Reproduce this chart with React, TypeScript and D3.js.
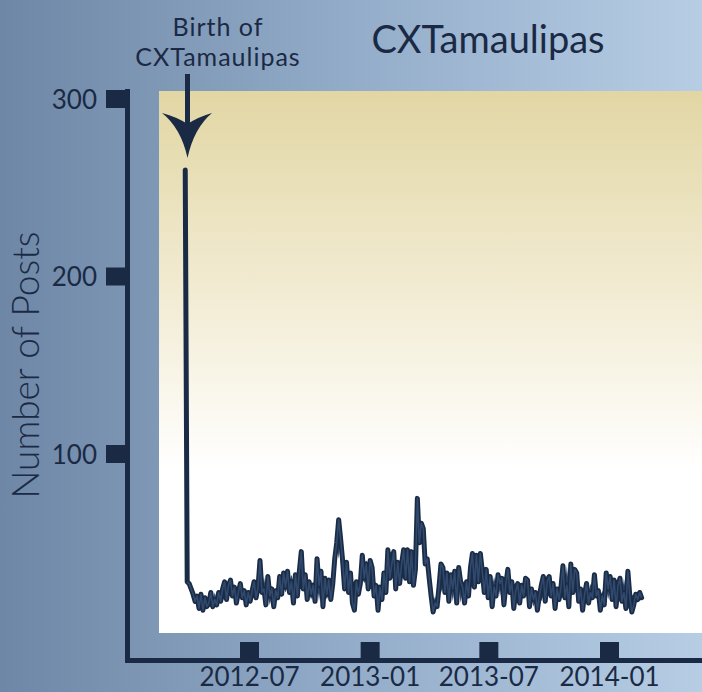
import { useEffect, useRef } from 'react';
import * as d3 from 'd3';

const startDay = new Date(2012, 2, 25);
const stepDays = 3;
const posts = [
  260, 28, 27, 24, 21, 17, 20, 13, 21, 12, 19, 14, 16, 22, 14, 18, 15, 22, 17, 24,
  28, 18, 26, 29, 20, 25, 16, 22, 27, 19, 23, 15, 22, 17, 23, 28, 19, 25, 40, 22,
  24, 15, 31, 20, 24, 14, 23, 19, 31, 21, 33, 25, 34, 22, 28, 16, 32, 20, 34, 45,
  24, 32, 18, 28, 21, 26, 17, 41, 26, 34, 14, 30, 21, 29, 18, 27, 41, 50, 63, 52,
  40, 24, 39, 22, 33, 16, 12, 28, 21, 27, 43, 30, 38, 24, 40, 36, 20, 26, 12, 25,
  18, 33, 22, 46, 30, 38, 45, 24, 39, 27, 38, 46, 30, 46, 28, 45, 26, 35, 75, 50,
  61, 58, 38, 41, 30, 20, 11, 16, 14, 25, 38, 36, 22, 33, 17, 32, 24, 34, 16, 36,
  28, 25, 16, 28, 20, 36, 44, 25, 43, 28, 44, 34, 22, 35, 19, 31, 14, 25, 20, 32,
  27, 30, 15, 27, 35, 22, 28, 13, 23, 27, 16, 26, 20, 30, 29, 14, 24, 18, 22, 12,
  20, 26, 31, 17, 28, 31, 20, 27, 13, 24, 18, 25, 37, 19, 26, 14, 38, 22, 35, 33,
  17, 24, 12, 21, 27, 16, 22, 19, 32, 20, 23, 12, 20, 15, 33, 24, 31, 18, 29, 14,
  26, 30, 17, 22, 13, 34, 20, 11, 15, 21, 18, 22, 19,
];

const yTicks = [100, 200, 300];
const xTicks = ['2012-07', '2013-01', '2013-07', '2014-01'];

const title = 'CXTamaulipas';
const yLabel = 'Number of Posts';
const noteLines = ['Birth of', 'CXTamaulipas'];

const W = 702;
const H = 692;
const ink = '#1b2a44';
const font = 'Lato, "Noto Sans", sans-serif';

type Pt = { date: Date; value: number; lo: number; hi: number };

export default function App() {
  const svgRef = useRef<SVGSVGElement>(null);

  useEffect(() => {
    if (!svgRef.current) return;
    const svg = d3.select(svgRef.current);
    svg.selectAll('*').remove();
    svg.attr('viewBox', `0 0 ${W} ${H}`);

    const parse = d3.timeParse('%Y-%m');
    const at = (i: number) => posts[Math.max(1, Math.min(posts.length - 1, i))];
    // lo/hi fill the valleys between close neighbours, so the wiggle reads as a band
    const data: Pt[] = posts.map((v, i) => ({
      date: d3.timeDay.offset(startDay, i * stepDays),
      value: v,
      lo: Math.min(v, Math.max(Math.min(at(i - 1), at(i - 2)), Math.min(at(i + 1), at(i + 2)))),
      hi: Math.max(v, Math.min(Math.max(at(i - 1), at(i - 2)), Math.max(at(i + 1), at(i + 2)))),
    }));

    const x = d3.scaleTime()
      .domain([parse('2012-07')!, parse('2014-01')!])
      .range([249.5, 609.5]);
    const y = d3.scaleLinear().domain([0, 300]).range([631.5, 99]);

    const defs = svg.append('defs');
    const bg = defs.append('linearGradient').attr('id', 'bg').attr('x1', 0).attr('x2', 1).attr('y1', 0).attr('y2', 0);
    bg.append('stop').attr('offset', 0).attr('stop-color', '#6e87a6');
    bg.append('stop').attr('offset', 0.5).attr('stop-color', '#93acc9');
    bg.append('stop').attr('offset', 1).attr('stop-color', '#b6cde4');
    const panel = defs.append('linearGradient').attr('id', 'panel').attr('x1', 0).attr('x2', 0).attr('y1', 0).attr('y2', 1);
    panel.append('stop').attr('offset', 0).attr('stop-color', '#e2d6a4');
    panel.append('stop').attr('offset', 0.45).attr('stop-color', '#f5f0dd');
    panel.append('stop').attr('offset', 0.7).attr('stop-color', '#ffffff');

    svg.append('rect').attr('width', W).attr('height', H).attr('fill', 'url(#bg)');
    svg.append('rect').attr('x', 159).attr('y', 91).attr('width', W - 159).attr('height', 633 - 91).attr('fill', 'url(#panel)');

    const band = d3.area<Pt>()
      .x(d => x(d.date))
      .y0(d => y(d.lo))
      .y1(d => y(d.hi));
    svg.append('path')
      .datum(data.slice(1))
      .attr('d', band)
      .attr('fill', '#2f4a6e');

    const line = d3.line<Pt>()
      .x(d => x(d.date))
      .y(d => y(d.value));
    svg.append('path')
      .datum(data)
      .attr('d', line)
      .attr('fill', 'none')
      .attr('stroke', '#1a2b45')
      .attr('stroke-width', 5)
      .attr('stroke-linejoin', 'round')
      .attr('stroke-linecap', 'round');
    svg.append('path')
      .datum(data.slice(1))
      .attr('d', line)
      .attr('fill', 'none')
      .attr('stroke', '#30496c')
      .attr('stroke-width', 1.6)
      .attr('stroke-linejoin', 'round');

    // axes
    svg.append('rect').attr('x', 125).attr('y', 89).attr('width', 5).attr('height', 663 - 89).attr('fill', ink);
    svg.append('rect').attr('x', 125).attr('y', 658).attr('width', W - 125).attr('height', 5).attr('fill', ink);

    const yt = svg.append('g');
    yt.selectAll('rect').data(yTicks).enter().append('rect')
      .attr('x', 106).attr('y', d => y(d) - 9).attr('width', 21).attr('height', 18).attr('fill', ink);
    yt.selectAll('text').data(yTicks).enter().append('text')
      .attr('x', 97).attr('y', d => y(d) + 9.5)
      .attr('text-anchor', 'end')
      .attr('font-family', font).attr('font-size', 26).attr('fill', ink)
      .text(d => d);

    const xt = svg.append('g');
    xt.selectAll('rect').data(xTicks).enter().append('rect')
      .attr('x', d => x(parse(d)!) - 9.5).attr('y', 642).attr('width', 19).attr('height', 17).attr('fill', ink);
    xt.selectAll('text').data(xTicks).enter().append('text')
      .attr('x', d => x(parse(d)!)).attr('y', 686)
      .attr('text-anchor', 'middle')
      .attr('font-family', font).attr('font-size', 26).attr('fill', ink)
      .text(d => d);

    svg.append('text')
      .attr('transform', 'translate(39,365) rotate(-90)')
      .attr('text-anchor', 'middle')
      .attr('font-family', font).attr('font-weight', 300).attr('font-size', 37).attr('fill', ink)
      .text(yLabel);

    svg.append('text')
      .attr('x', 488).attr('y', 53)
      .attr('text-anchor', 'middle')
      .attr('font-family', font).attr('font-size', 38).attr('fill', ink)
      .text(title);

    // annotation
    svg.selectAll('.note').data(noteLines).enter().append('text')
      .attr('class', 'note')
      .attr('x', 218).attr('y', (d, i) => 35.5 + i * 30)
      .attr('text-anchor', 'middle')
      .attr('font-family', font).attr('font-size', 25).attr('letter-spacing', 1).attr('fill', ink)
      .text(d => d);
    svg.append('rect').attr('x', 185).attr('y', 74).attr('width', 5).attr('height', 50).attr('fill', ink);
    svg.append('path')
      .attr('d', 'M187.5,158 Q181,128 162,113 Q177,117 187.5,124 Q198,117 212,113 Q194,128 187.5,158 Z')
      .attr('fill', ink);
  }, []);

  return (
    <svg ref={svgRef} width={W} height={H} style={{ position: 'absolute', left: 0, top: 0 }} />
  );
}
